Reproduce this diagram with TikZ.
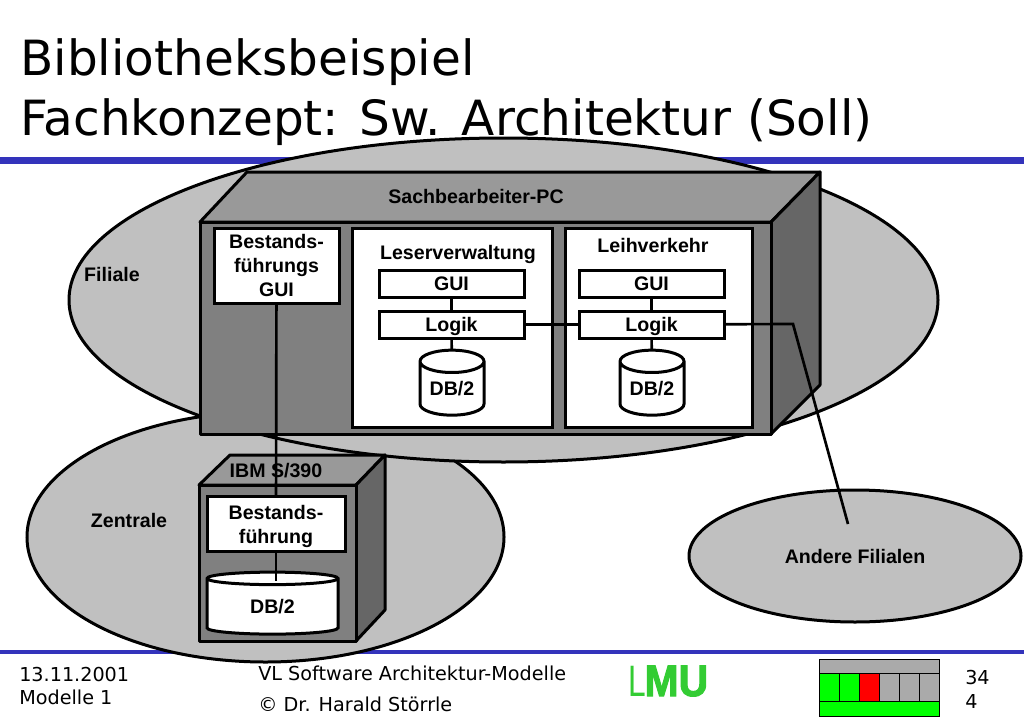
\documentclass[tikz,border=0pt]{standalone}
\usepackage{fontspec}
\setmainfont{Liberation Sans}
\newfontfamily\verafont{DejaVu Sans}
\newfontfamily\lmufont[BoldFeatures={FakeBold=2.5}]{Liberation Sans}
\usetikzlibrary{shapes.geometric}
\definecolor{ellgray}{HTML}{C0C0C0}
\definecolor{topgray}{HTML}{999999}
\definecolor{frontgray}{HTML}{808080}
\definecolor{sidegray}{HTML}{666666}
\definecolor{barblue}{HTML}{3333BB}
\definecolor{lmugreen}{HTML}{33CC33}
\definecolor{wgray}{HTML}{AAAAAA}
\definecolor{wgreen}{HTML}{00FF00}
\tikzset{
  x=0.75pt,y=-0.75pt,
  ell/.style={ellipse,draw=black,line width=2.25pt,fill=ellgray,inner sep=0pt,outer sep=0pt},
  face/.style={draw=black,line width=2.25pt,line join=round},
  wbox/.style={rectangle,draw=black,line width=2.25pt,fill=white,inner sep=0pt,outer sep=0pt,align=center,font=\fontsize{14.7}{18}\selectfont\bfseries},
  lbl/.style={inner sep=0pt,align=center,font=\fontsize{14.7}{18}\selectfont\bfseries},
  conn/.style={draw=black,line width=2pt},
  db/.style={cylinder,shape border rotate=90,draw=black,line width=2.25pt,fill=white,aspect=0.5,inner sep=0pt,outer sep=0pt,font=\fontsize{14.7}{18}\selectfont\bfseries},
  foot/.style={inner sep=0pt,anchor=base west,font=\verafont\fontsize{14.4}{16}\selectfont},
  title/.style={inner sep=0pt,anchor=base west,font=\verafont\fontsize{36.4}{40}\selectfont},
  wcell/.style={draw=black,line width=0.7pt}
}
\begin{document}
\begin{tikzpicture}
\useasboundingbox (0,0) rectangle (1024,724);
% bars
\fill[barblue] (0,157) rectangle (1024,164);
\fill[barblue] (0,650) rectangle (1024,654);
% title
\node[title] (t1) at (20,75) {Bibliotheksbeispiel};
\node[title] (t2) at (20,135) {Fachkonzept: Sw. Architektur (Soll)};
% ellipses
\node[ell,minimum width=477*0.75pt,minimum height=250*0.75pt] (zen) at (265.5,537) {};
\node[ell,minimum width=869*0.75pt,minimum height=324*0.75pt] (fil) at (503.5,300) {};
\node[ell,minimum width=332*0.75pt,minimum height=132*0.75pt] (and) at (855,556) {};
\node[lbl] (lfil) at (112,274) {Filiale};
\node[lbl] (lzen) at (129,520) {Zentrale};
\node[lbl] (land) at (855,556) {Andere Filialen};
% big cube
\draw[face,fill=topgray] (200,222) -- (247,172) -- (820,172) -- (771,222) -- cycle;
\draw[face,fill=sidegray] (771,222) -- (820,172) -- (820,385) -- (771,434) -- cycle;
\draw[face,fill=frontgray] (200,222) rectangle (771,434);
\node[lbl] (lpc) at (476,196) {Sachbearbeiter-PC};
% inner boxes
\node[wbox,minimum width=125*0.75pt,minimum height=75*0.75pt] (bg) at (276.5,265.5) {Bestands-\\führungs\\GUI};
\node[wbox,minimum width=200*0.75pt,minimum height=199*0.75pt] (lv) at (452,327.5) {};
\node[wbox,minimum width=187*0.75pt,minimum height=199*0.75pt] (lh) at (658.5,327.5) {};
\node[lbl,text depth=0pt] (llv) at (458,252) {Leserverwaltung};
\node[lbl] (llh) at (653,245) {Leihverkehr};
\node[wbox,minimum width=145*0.75pt,minimum height=27*0.75pt] (g1) at (451.5,283.5) {GUI};
\node[wbox,text depth=0pt,minimum width=145*0.75pt,minimum height=27*0.75pt] (l1) at (451.5,324.5) {Logik};
\node[wbox,minimum width=145*0.75pt,minimum height=27*0.75pt] (g2) at (651.5,283.5) {GUI};
\node[wbox,text depth=0pt,minimum width=145*0.75pt,minimum height=27*0.75pt] (l2) at (651.5,324.5) {Logik};
\node[db,minimum width=64*0.75pt,minimum height=65*0.75pt] (d1) at (452,389) {DB/2};
\node[db,minimum width=64*0.75pt,minimum height=65*0.75pt] (d2) at (652,389) {DB/2};
% IBM cube
\draw[face,fill=topgray] (199,485) -- (230,455) -- (385,455) -- (356,485) -- cycle;
\draw[face,fill=sidegray] (356,485) -- (385,455) -- (385,610) -- (356,641) -- cycle;
\draw[face,fill=frontgray] (199,485) rectangle (356,641);
\node[lbl] (libm) at (276,471) {IBM S/390};
\node[wbox,minimum width=138*0.75pt,minimum height=55*0.75pt,text depth=0pt] (bf) at (276,524) {Bestands-\\führung};
\node[db,aspect=0.28,minimum width=131*0.75pt,minimum height=62*0.75pt] (d3) at (272.5,607) {DB/2};
% connectors
\coordinate (kn) at (793,324);
\coordinate (af) at (848,524);
\coordinate (d3t) at (276,581);
\draw[conn] (g1) -- (l1);
\draw[conn] (g2) -- (l2);
\draw[conn] (l1) -- (d1);
\draw[conn] (l2) -- (d2);
\draw[conn] (l1) -- (l2);
\draw[conn] (l2) -- (kn) -- (af);
\draw[conn] (bg) -- (bf);
\draw[conn] (bf) -- (d3t);
% footer
\node[foot] (f1) at (19,681) {13.11.2001};
\node[foot] (f2) at (19,704) {Modelle 1};
\node[foot] (f3) at (258,680.5) {VL Software Architektur-Modelle};
\node[foot] (f4) at (258,711.5) {© Dr. Harald Störrle};
\node[foot] (f5) at (965,684) {34};
\node[foot] (f6) at (965,708) {4};
% logo
\node[inner sep=0pt,anchor=base west,text=lmugreen,font=\lmufont\fontsize{33}{33}\selectfont] (lmu) at (628,696) {\scalebox{0.72}[1]{L}\hspace{-1pt}\scalebox{0.93}[1]{\textbf{MU}}};
% widget
\fill[wgray] (819,659) rectangle (939,673);
\fill[wgreen] (819,673) rectangle (859,701);
\fill[red] (859,673) rectangle (879,701);
\fill[wgray] (879,673) rectangle (939,701);
\fill[wgreen] (819,701) rectangle (939,716);
\draw[wcell] (819,659) rectangle (939,716);
\draw[wcell] (819,673) -- (939,673) (819,701) -- (939,701);
\foreach \xx in {839,859,879,899,919} \draw[wcell] (\xx,673) -- (\xx,701);
\end{tikzpicture}
\end{document}
